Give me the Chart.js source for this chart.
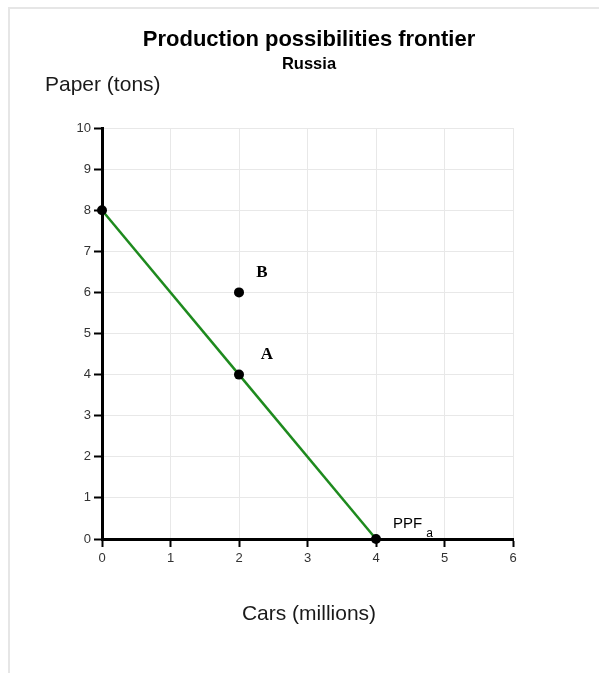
<!DOCTYPE html>
<html><head><meta charset="utf-8">
<script src="https://cdn.jsdelivr.net/npm/chart.js@4"></script>
<style>
html,body{margin:0;padding:0;background:#fff;}
#wrap{position:absolute;left:0;top:0;width:599px;height:673px;}
#frame{position:absolute;left:8px;top:7px;width:591px;height:666px;border-left:2px solid #e6e6e6;border-top:2px solid #e6e6e6;box-sizing:border-box;}
canvas{position:absolute;left:0;top:0;}
</style></head>
<body><div id="wrap"><div id="frame"></div><canvas id="c" width="599" height="673"></canvas></div>
<script>
const chartTitle = "Production possibilities frontier";
const chartSubtitle = "Russia";
const yAxisTitle = "Paper (tons)";
const xAxisTitle = "Cars (millions)";
const ppfCars = [0, 2, 4];
const ppfPaper = [8, 4, 0];
const extraCars = [2];
const extraPaper = [6];
const pointLabels = ["B", "A"];
const pointLabelCars = [2, 2];
const pointLabelPaper = [6, 4];
const curveLabel = "PPF";
const curveSub = "a";
const xTicks = [0,1,2,3,4,5,6];
const yTicks = [0,1,2,3,4,5,6,7,8,9,10];

const ppfData = ppfCars.map((x,i)=>({x, y: ppfPaper[i]}));
const extraData = extraCars.map((x,i)=>({x, y: extraPaper[i]}));

const labelPlugin = {
  id: 'labels',
  afterDatasetsDraw(chart) {
    const ctx = chart.ctx;
    const xs = chart.scales.x, ys = chart.scales.y;
    ctx.save();
    ctx.fillStyle = '#000';
    ctx.textAlign = 'center';
    ctx.textBaseline = 'middle';
    ctx.font = 'bold 22px "Liberation Sans", Arial, sans-serif';
    ctx.fillText(chartTitle, 309, 40);
    ctx.font = 'bold 16.5px "Liberation Sans", Arial, sans-serif';
    ctx.fillText(chartSubtitle, 309, 64);
    ctx.font = '21px "Liberation Sans", Arial, sans-serif';
    ctx.fillStyle = '#1a1a1a';
    ctx.textAlign = 'left';
    ctx.fillText(yAxisTitle, 45, 85);
    ctx.textAlign = 'center';
    ctx.fillText(xAxisTitle, 309, 614);
    // point labels
    ctx.fillStyle = '#000';
    ctx.font = 'bold 17px "Liberation Serif", "Times New Roman", serif';
    pointLabels.forEach((t,i)=>{
      const px = xs.getPixelForValue(pointLabelCars[i]);
      const py = ys.getPixelForValue(pointLabelPaper[i]);
      const dx = i===0 ? 23 : 28;
      ctx.fillText(t, px + dx, py - 20);
    });
    // curve label
    const lx = xs.getPixelForValue(ppfCars[ppfCars.length-1]);
    const ly = ys.getPixelForValue(ppfPaper[ppfPaper.length-1]);
    ctx.textAlign = 'left';
    ctx.font = '15px "Liberation Sans", Arial, sans-serif';
    ctx.fillText(curveLabel, lx + 17, ly - 15);
    const w = ctx.measureText(curveLabel).width;
    ctx.font = '12px "Liberation Sans", Arial, sans-serif';
    ctx.fillText(curveSub, lx + 17 + w + 4, ly - 5);
    ctx.restore();
  }
};

new Chart(document.getElementById('c'), {
  type: 'scatter',
  data: {
    datasets: [
      { data: ppfData, showLine: true, borderColor: '#1e8a1e', borderWidth: 2.5,
        pointRadius: 5, pointBackgroundColor: '#000', pointBorderColor: '#000', pointBorderWidth: 0, clip: false, tension: 0 },
      { data: extraData, showLine: false, pointRadius: 5, pointBackgroundColor: '#000', pointBorderColor: '#000', pointBorderWidth: 0, clip: false }
    ]
  },
  options: {
    responsive: false,
    animation: false,
    devicePixelRatio: 1,
    layout: { padding: { left: 10, right: 86, top: 128, bottom: 104 } },
    plugins: { legend: { display: false }, tooltip: { enabled: false }, title: { display: false } },
    scales: {
      x: {
        type: 'linear', min: 0, max: 6,
        afterFit(s){ s.height = 30; },
        afterBuildTicks(s){ s.ticks = xTicks.map(v=>({value:v})); },
        grid: { color: '#e8e8e8', lineWidth: 1, tickColor: '#000', tickLength: 8, tickWidth: 2, drawTicks: true },
        border: { color: '#000', width: 3 },
        ticks: { color: '#333', font: { size: 13, family: '"Liberation Sans", Arial, sans-serif' }, padding: 4, maxRotation: 0 }
      },
      y: {
        type: 'linear', min: 0, max: 10,
        afterFit(s){ s.width = 92; },
        afterBuildTicks(s){ s.ticks = yTicks.map(v=>({value:v})); },
        grid: { color: '#e8e8e8', lineWidth: 1, tickColor: '#000', tickLength: 8, tickWidth: 2, drawTicks: true },
        border: { color: '#000', width: 3 },
        ticks: { color: '#333', font: { size: 13, family: '"Liberation Sans", Arial, sans-serif' }, padding: 3 }
      }
    }
  },
  plugins: [labelPlugin]
});
</script></body></html>
